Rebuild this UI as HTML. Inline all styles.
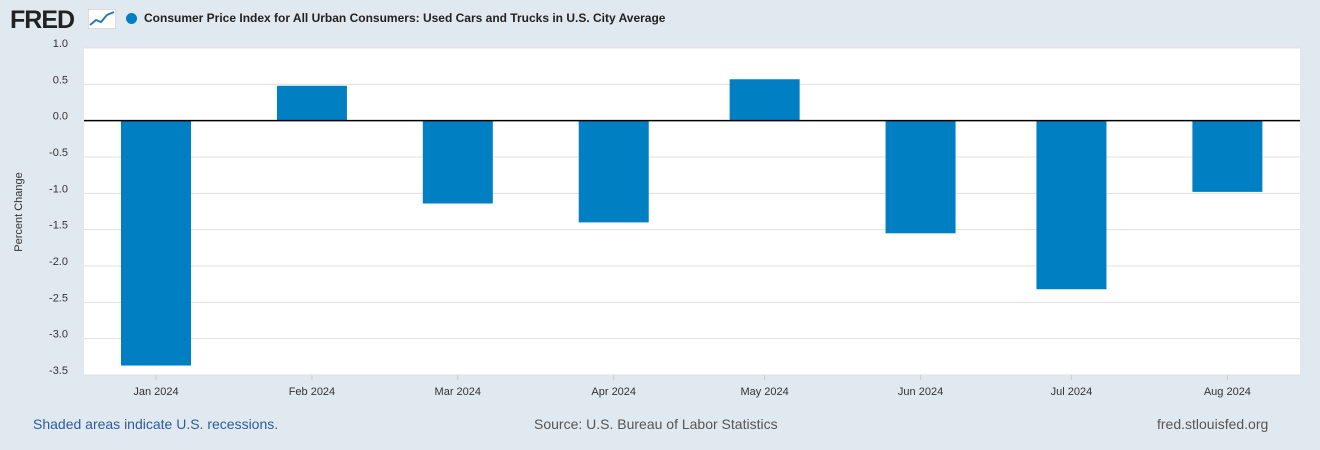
<!DOCTYPE html>
<html><head><meta charset="utf-8"><style>
body{margin:0;width:1320px;height:450px;background:#e1e9f0;font-family:"Liberation Sans",sans-serif;overflow:hidden;position:relative}
.t{position:absolute;white-space:nowrap}
</style></head><body>
<div class="t" style="left:10px;top:6px;font-size:25px;font-weight:bold;color:#222;letter-spacing:-1px">FRED</div>
<svg class="t" style="left:88px;top:9px" width="28" height="20"><rect width="28" height="20" fill="#fff" stroke="#bbb"/><polyline points="2,16 8,11 13,13 19,6 26,3" fill="none" stroke="#2a7ab8" stroke-width="2"/></svg>
<div class="t" style="left:126px;top:13px;width:11px;height:11px;border-radius:50%;background:#0080c2"></div>
<div class="t" style="left:144px;top:11px;font-size:12px;font-weight:bold;color:#222">Consumer Price Index for All Urban Consumers: Used Cars and Trucks in U.S. City Average</div>
<svg class="t" style="left:0;top:0" width="1320" height="450" id="chart"></svg>
<div class="t" style="left:33px;top:416px;font-size:14px;color:#2d5c99">Shaded areas indicate U.S. recessions.</div>
<div class="t" style="left:534px;top:416px;font-size:14px;color:#555">Source: U.S. Bureau of Labor Statistics</div>
<div class="t" style="left:1157px;top:416px;font-size:14px;color:#555">fred.stlouisfed.org</div>
<script>
const categories=["Jan 2024","Feb 2024","Mar 2024","Apr 2024","May 2024","Jun 2024","Jul 2024","Aug 2024"];
const values=[-3.37,0.48,-1.14,-1.40,0.57,-1.55,-2.32,-0.98];
const ticks=[1.0,0.5,0.0,-0.5,-1.0,-1.5,-2.0,-2.5,-3.0,-3.5];
const svg=document.getElementById('chart');const NS='http://www.w3.org/2000/svg';
const L=84,R=1300,T=48,B=375,ymin=-3.5,ymax=1.0;
const y=v=>T+(ymax-v)/(ymax-ymin)*(B-T);
const t0=Date.UTC(2024,0,1);
const dayOf=i=>(Date.UTC(2024,i,1)-t0)/86400000;
const x=i=>156+dayOf(i)*5.03;
function mk(tag,a){const e=document.createElementNS(NS,tag);for(const k in a)e.setAttribute(k,a[k]);svg.appendChild(e);return e;}
const bg=mk('rect',{x:L,y:T,width:R-L,height:B-T,fill:'#fff'});


ticks.forEach(v=>{
const g=mk('line',{x1:L,x2:R,y1:y(v),y2:y(v),stroke:'#e0e0e0'});


const t=mk('text',{x:68,y:y(v)-1,'text-anchor':'end','font-size':11,fill:'#333','font-family':'Liberation Sans'});t.textContent=v.toFixed(1);


});
values.forEach((v,i)=>{
const r=mk('rect',{x:x(i)-35,y:Math.min(y(v),y(0)),width:70,height:Math.abs(y(v)-y(0)),fill:'#0080c2'});


const t=mk('text',{x:x(i),y:395,'text-anchor':'middle','font-size':11,fill:'#333','font-family':'Liberation Sans'});t.textContent=categories[i];


const tk=mk('line',{x1:x(i),x2:x(i),y1:B,y2:B+5,stroke:'#ccc'});


});
const z=mk('line',{x1:L,x2:R,y1:y(0),y2:y(0),stroke:'#000','stroke-width':1.5});


const yt=mk('text',{x:0,y:0,transform:'translate(22,212) rotate(-90)','text-anchor':'middle','font-size':11,fill:'#333','font-family':'Liberation Sans'});yt.textContent='Percent Change';


</script>
</body></html>
